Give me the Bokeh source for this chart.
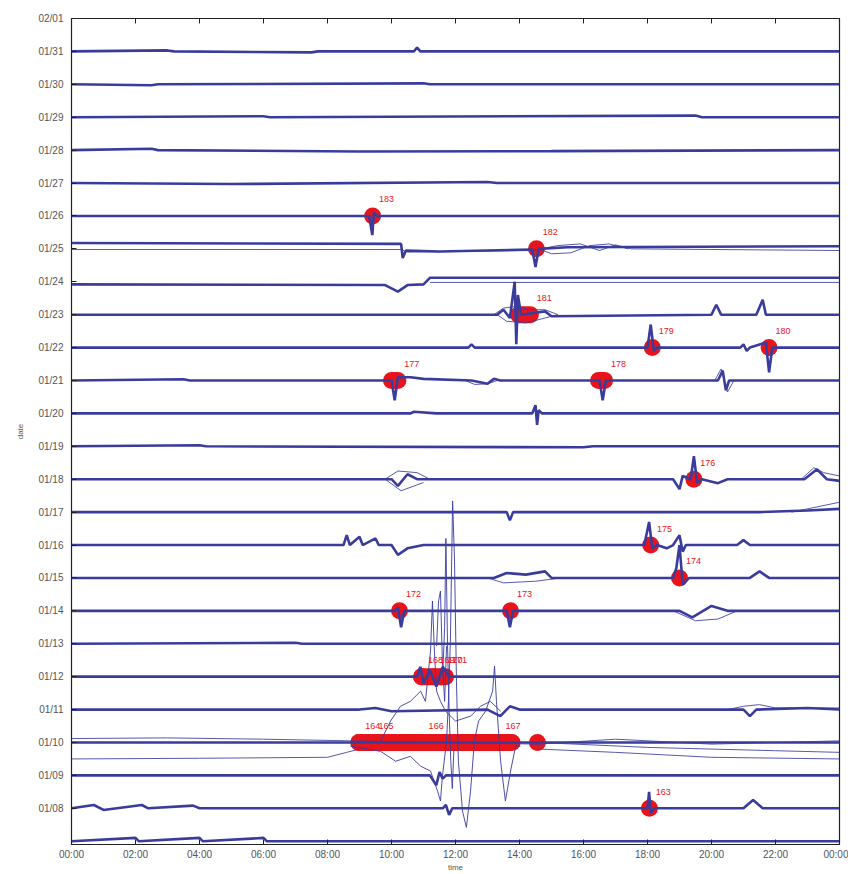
from bokeh.plotting import figure
from bokeh.models import FixedTicker, LinearAxis, Range1d, ColumnDataSource
from bokeh.core.properties import value
from bokeh.embed import file_html
from bokeh.resources import INLINE

# ---------------- data ----------------
tick_hours = [0, 2, 4, 6, 8, 10, 12, 14, 16, 18, 20, 22, 24]
tick_hour_labels = ["00:00", "02:00", "04:00", "06:00", "08:00", "10:00", "12:00",
                    "14:00", "16:00", "18:00", "20:00", "22:00", "00:00"]
date_levels = list(range(8, 33))
date_labels = ["01/%02d" % d for d in range(8, 32)] + ["02/01"]

# main daily traces: (hour, offset in day units) for the trace of each day level
tr_31 = [(0, 0), (3.0, 0.03), (3.2, 0), (7.5, -0.03), (7.7, 0), (10.7, 0), (10.8, 0.12), (10.9, 0), (24, 0)]
tr_30 = [(0, 0), (2.5, -0.03), (2.7, 0), (11.0, 0.03), (11.2, 0), (24, 0)]
tr_29 = [(0, 0), (6.0, 0.03), (6.2, 0), (19.5, 0.05), (19.7, 0), (24, 0)]
tr_28 = [(0, 0), (2.5, 0.04), (2.7, 0), (9.0, -0.04), (15.0, -0.03), (24, 0)]
tr_27 = [(0, 0), (5.0, -0.03), (13.0, 0.03), (13.3, 0), (24, 0)]
tr_26 = [(0, 0), (9.3, 0), (9.4, -0.58), (9.45, 0.1), (9.55, 0), (24, 0)]
tr_25a = [(0, 0.18), (10.3, 0.15), (10.35, -0.28), (10.45, -0.05), (11.5, -0.08), (14.4, -0.02),
          (14.5, -0.55), (14.6, 0), (15.5, 0.05), (24, 0.08)]
tr_25b = [(0, -0.02), (10.3, -0.02), (10.5, -0.1), (14.4, -0.05), (15.2, 0.1), (15.9, 0.15),
          (16.5, -0.05), (17.0, 0.12), (17.5, 0), (24, -0.05)]
tr_24a = [(0, -0.08), (9.8, -0.1), (10.2, -0.3), (10.5, -0.1), (11.0, -0.08), (11.2, 0.12), (24, 0.12)]
tr_24b = [(11.2, -0.02), (24, -0.02)]
tr_23 = [(0, 0), (13.3, 0), (13.5, 0.15), (13.7, -0.1), (13.85, 1.0), (13.9, -0.9), (13.95, 0.6),
         (14.05, 0), (14.8, 0.1), (15.0, -0.05), (20.0, 0), (20.15, 0.3), (20.3, 0), (21.4, 0),
         (21.6, 0.45), (21.7, 0), (24, 0)]
tr_22 = [(0, 0), (12.4, 0), (12.5, 0.1), (12.6, 0), (18.0, 0), (18.1, 0.7), (18.2, -0.1), (18.3, 0),
         (20.9, 0), (21.0, 0.1), (21.1, -0.1), (21.2, 0), (21.7, 0.15), (21.8, -0.75), (21.9, 0), (24, 0)]
tr_21 = [(0, 0), (3.5, 0.04), (3.7, 0), (10.0, 0), (10.1, -0.6), (10.2, 0.1), (10.6, 0.1), (11.0, 0.05),
         (12.5, 0), (13.0, -0.1), (13.2, 0.05), (13.4, 0), (16.5, 0), (16.6, -0.6), (16.7, 0),
         (20.2, 0), (20.35, 0.3), (20.45, -0.3), (20.55, 0), (24, 0)]
tr_20 = [(0, 0), (10.6, 0), (10.7, 0.05), (11.4, 0), (14.4, 0), (14.5, 0.25), (14.55, -0.35),
         (14.6, 0.1), (14.7, 0), (24, 0)]
tr_19 = [(0, 0), (4.0, 0.03), (4.2, 0), (16.0, -0.03), (16.3, 0), (24, 0)]
tr_18 = [(0, 0), (10.0, 0), (10.2, -0.2), (10.5, 0.15), (10.8, 0), (18.8, 0), (19.0, -0.3), (19.1, 0.1),
         (19.35, 0), (19.45, 0.7), (19.55, -0.1), (19.7, 0), (20.2, -0.12), (20.5, 0), (22.9, 0),
         (23.3, 0.3), (23.6, 0), (24, -0.05)]
tr_17 = [(0, 0), (13.6, 0), (13.7, -0.25), (13.8, 0), (21.5, 0), (23, 0.05), (24, 0.1)]
tr_16 = [(0, 0), (8.5, 0), (8.6, 0.3), (8.7, 0), (9.0, 0.25), (9.1, 0), (9.5, 0.2), (9.6, 0), (10.0, 0),
         (10.2, -0.3), (10.5, -0.1), (11, 0), (17.9, 0), (18.05, 0.7), (18.15, -0.1), (18.3, 0),
         (18.6, -0.1), (18.8, 0), (19.0, 0.3), (19.1, -0.2), (19.2, 0), (20.8, 0), (21.0, 0.15),
         (21.2, 0), (24, 0)]
tr_15 = [(0, 0), (13.2, 0), (13.6, 0.15), (14.2, 0.1), (14.8, 0.2), (15.0, 0), (18.8, 0), (18.9, 0.3),
         (19.0, 1.0), (19.1, -0.2), (19.3, 0), (21.2, 0), (21.5, 0.2), (21.8, 0), (24, 0)]
tr_14 = [(0, 0), (10.1, 0), (10.2, 0.1), (10.3, -0.5), (10.4, 0), (13.6, 0), (13.7, -0.5), (13.8, 0),
         (19.0, 0), (19.4, -0.2), (20.0, 0.15), (20.5, 0), (24, 0)]
tr_13 = [(0, 0), (7.0, 0.03), (7.2, 0), (24, 0)]
tr_12 = [(0, 0), (10.8, 0), (10.9, 0.3), (11.0, -0.2), (11.2, 0.2), (11.4, -0.3), (11.6, 0.3),
         (11.8, 0), (24, 0)]
tr_11 = [(0, 0), (9.0, 0), (9.5, 0.05), (10.0, -0.05), (13.0, 0), (13.4, -0.2), (13.7, 0.1), (14.0, 0),
         (21.0, 0), (21.2, -0.2), (21.4, 0), (23.0, 0.05), (24, 0)]
tr_10a = [(0, 0), (8.7, 0), (24, 0)]
tr_09 = [(0, 0), (11.2, 0), (11.4, -0.3), (11.5, 0.1), (11.6, -0.1), (11.7, 0), (24, 0)]
tr_08 = [(0, 0), (0.7, 0.1), (1.0, -0.05), (2.2, 0.1), (2.4, 0), (3.8, 0.08), (4.0, 0), (11.6, 0),
         (11.7, 0.1), (11.8, -0.2), (11.9, 0), (18.0, 0), (18.05, 0.5), (18.1, -0.15), (18.2, 0),
         (21.0, 0), (21.3, 0.25), (21.6, 0), (24, 0)]
tr_07 = [(0, 0), (2.0, 0.1), (2.1, 0), (4.0, 0.1), (4.1, 0), (6.0, 0.1), (6.1, 0), (24, 0)]

main_levels = [31, 30, 29, 28, 27, 26, 25, 24, 23, 22, 21, 20, 19, 18, 17, 16, 15, 14, 13, 12, 11, 10, 9, 8, 7]
main_traces = [tr_31, tr_30, tr_29, tr_28, tr_27, tr_26, tr_25a, tr_24a, tr_23, tr_22, tr_21, tr_20,
               tr_19, tr_18, tr_17, tr_16, tr_15, tr_14, tr_13, tr_12, tr_11, tr_10a, tr_09, tr_08, tr_07]

# secondary (thin) traces: (hour, offset) with their day level
thin_levels = [25, 25, 24, 23, 23, 21, 21, 18, 18, 18, 17, 15, 14, 11, 10, 10, 10, 10]
thin_traces = [
    tr_25b,
    [(14.6, 0), (15.0, -0.15), (15.6, -0.12), (16.2, 0.1), (16.8, 0.15), (17.4, 0.0)],
    tr_24b,
    [(13.2, 0), (13.5, 0.2), (13.9, 0.25), (14.3, 0.15), (14.8, 0.15), (15.2, 0)],
    [(13.3, 0), (13.6, -0.2), (14.2, -0.25), (14.8, -0.1), (15.2, 0)],
    [(12.3, 0), (12.6, -0.12), (13.0, -0.1), (13.3, 0)],
    [(20.1, 0), (20.3, 0.35), (20.5, -0.35), (20.7, 0)],
    [(9.8, 0), (10.2, 0.25), (10.8, 0.2), (11.2, 0)],
    [(9.8, 0), (10.3, -0.35), (11.0, -0.1)],
    [(22.8, 0), (23.2, 0.35), (23.5, 0.2), (24, 0.1)],
    [(22.5, 0), (24, 0.3)],
    [(13.0, 0), (13.5, -0.15), (14.5, -0.1), (15.3, 0)],
    [(18.8, 0), (19.5, -0.3), (20.2, -0.25), (20.8, 0)],
    [(20.5, 0), (21.0, 0.1), (21.5, 0.15), (22.0, 0.05), (24, 0.05)],
    [(0, 0.12), (3, 0.14), (6, 0.1), (8.7, 0.05), (14.6, -0.05), (17, 0.1), (20, -0.05), (24, 0.05)],
    [(0, -0.5), (4, -0.48), (8.0, -0.45), (8.6, -0.3), (9.0, -0.2)],
    [(14.6, -0.2), (17, -0.3), (20, -0.45), (24, -0.5)],
    [(14.6, 0), (18, -0.15), (22, -0.25), (24, -0.3)],
]

# large-amplitude excursions (hour, absolute date level)
burst_a = [(8.72, 9.89), (9.66, 9.73), (10.13, 9.43), (10.59, 9.58), (10.91, 9.28), (11.22, 9.13),
           (11.44, 8.52), (11.53, 8.22), (11.59, 8.97), (11.72, 10.04), (11.78, 11.25), (11.84, 13.08),
           (11.88, 15.51), (11.91, 17.34), (11.97, 15.51), (12.03, 11.86), (12.09, 9.43), (12.22, 7.91),
           (12.34, 7.42), (12.47, 8.52), (12.59, 10.04), (12.72, 10.65), (12.94, 10.95), (13.16, 11.56),
           (13.22, 12.32), (13.28, 11.25), (13.41, 9.43), (13.56, 8.22), (13.72, 9.13), (13.88, 9.89),
           (14.03, 9.89)]
burst_b = [(9.66, 10.04), (9.97, 10.65), (10.28, 11.10), (10.59, 11.25), (10.91, 11.56), (11.06, 11.25),
           (11.22, 12.78), (11.28, 14.30), (11.34, 12.78), (11.41, 11.56), (11.53, 11.25), (11.69, 10.95),
           (12.00, 10.65), (12.47, 10.80), (12.78, 11.10), (13.09, 11.25), (13.41, 10.95)]
burst_c = [(11.41, 12.93), (11.47, 14.30), (11.53, 14.60), (11.59, 12.47), (11.66, 11.25), (11.72, 12.93)]
burst_d = [(11.60, 12.0), (11.66, 13.5), (11.70, 16.2), (11.75, 13.0), (11.80, 11.0), (11.85, 9.5),
           (11.90, 8.6), (11.95, 9.8)]

# detected events: id, day level, start hour, end hour (label sits just after the end)
event_ids = ["163", "164", "165", "166", "167", "", "", "168", "169", "170", "171", "172", "173", "174",
             "175", "176", "177", "178", "179", "180", "181", "182", "183"]
event_day = [8, 10, 10, 10, 10, 10, 10, 12, 12, 12, 12, 14, 14, 15, 16, 18, 21, 21, 22, 22, 23, 25, 26]
event_start = [18.06, 8.98, 8.98, 9.39, 10.96, 13.36, 14.56, 10.94, 10.94, 11.3, 11.55, 10.25, 13.72,
               19.0, 18.1, 19.45, 10.0, 16.47, 18.15, 21.8, 13.97, 14.53, 9.41]
event_end = [18.06, 8.98, 9.39, 10.96, 13.36, 13.77, 14.56, 10.94, 11.3, 11.55, 11.69, 10.25, 13.72,
             19.0, 18.1, 19.45, 10.2, 16.66, 18.15, 21.8, 14.34, 14.53, 9.41]

# ---------------- figure ----------------
BLUE = "#3a3c9c"
RED = "#e8141c"
FONT = "Liberation Sans"

p = figure(width=848, height=874, output_backend="svg", toolbar_location=None,
           x_range=Range1d(0, 24), y_range=Range1d(6.9, 32),
           min_border_left=71, min_border_right=9, min_border_top=18, min_border_bottom=30)
p.grid.visible = False
p.outline_line_color = "#222222"
p.outline_line_width = 1.2
p.background_fill_color = "white"
p.border_fill_color = "white"

# event markers (underneath the traces)
p.segment(x0=event_start, y0=event_day, x1=event_end, y1=event_day,
          line_color=RED, line_width=17, line_cap="round")

for lvl, tr in zip(thin_levels, thin_traces):
    p.line([h for h, _ in tr], [lvl + o for _, o in tr], line_color=BLUE, line_width=1.0, line_alpha=0.85)

for tr in (burst_a, burst_b, burst_c, burst_d):
    p.line([h for h, _ in tr], [v for _, v in tr], line_color=BLUE, line_width=1.0, line_alpha=0.9)

for lvl, tr in zip(main_levels, main_traces):
    p.line([h for h, _ in tr], [lvl + o for _, o in tr], line_color=BLUE, line_width=2.6)

# event labels
lab = [(i, d, e) for i, d, e in zip(event_ids, event_day, event_end) if i]
src = ColumnDataSource(dict(x=[e + 0.2 for _, _, e in lab], y=[d + 0.5 for _, d, _ in lab],
                            t=[i for i, _, _ in lab]))
p.text(x="x", y="y", text="t", source=src, text_color=RED, text_font_size="9px",
       text_baseline="middle", text_align="left", text_font=value(FONT))

# axes
p.xaxis.ticker = FixedTicker(ticks=tick_hours)
p.yaxis.ticker = FixedTicker(ticks=date_levels)
p.xaxis.major_label_overrides = {h: l for h, l in zip(tick_hours, tick_hour_labels)}
p.yaxis.major_label_overrides = {d: l for d, l in zip(date_levels, date_labels)}
p.xaxis.axis_label = "time"
p.yaxis.axis_label = "date"
for ax in (p.xaxis[0], p.yaxis[0]):
    ax.major_tick_in = 5
    ax.major_tick_out = 0
    ax.minor_tick_line_color = None
    ax.major_label_text_font_size = "10px"
    ax.major_label_text_color = "#555555"
    ax.major_label_text_font = FONT
    ax.axis_label_text_font_size = "8px"
    ax.axis_label_text_font_style = "normal"
    ax.axis_label_text_color = "#555555"
    ax.axis_label_text_font = FONT
    ax.axis_line_color = "#222222"
    ax.major_tick_line_color = "#222222"
p.xaxis.major_label_standoff = 4
p.xaxis.axis_label_standoff = 0
p.yaxis.major_label_standoff = 8
p.yaxis.axis_label_standoff = 10

top = LinearAxis(ticker=FixedTicker(ticks=tick_hours), major_tick_in=5, major_tick_out=0,
                 minor_tick_line_color=None, major_label_text_font_size="1px",
                 major_label_text_color=None, major_label_standoff=0,
                 axis_line_color="#222222", major_tick_line_color="#222222")
p.add_layout(top, "above")

html = file_html(p, INLINE)
open("out.html", "w").write(html)
